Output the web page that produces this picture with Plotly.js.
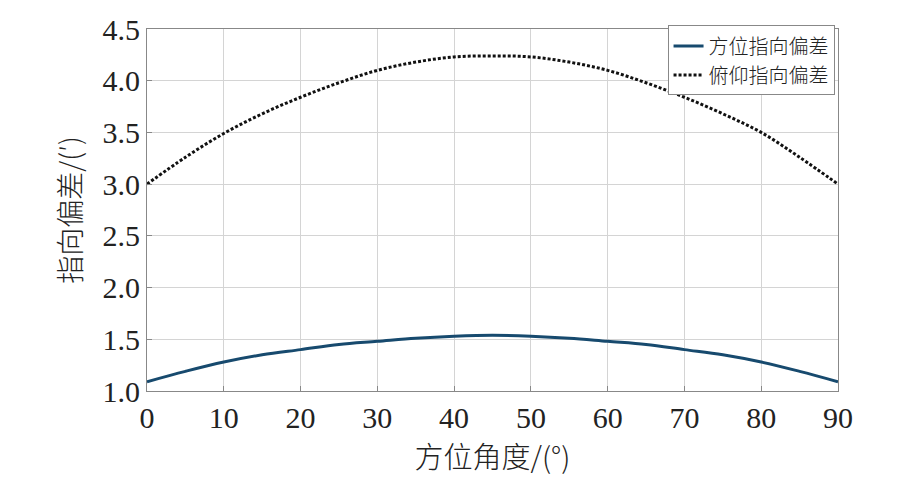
<!DOCTYPE html>
<html>
<head>
<meta charset="utf-8">
<script src="https://cdn.plot.ly/plotly-3.0.1.min.js"></script>
<style>
  body { margin: 0; background: #fff; }
  #chart { width: 897px; height: 481px; }
</style>
</head>
<body>
<div id="chart"></div>
<script>
// azimuth angle (deg) and pointing errors
var angles = [0, 5, 10, 15, 20, 25, 30, 35, 40, 45, 50, 55, 60, 65, 70, 75, 80, 85, 90];
var azimuthError = [1.09, 1.19, 1.28, 1.35, 1.40, 1.45, 1.48, 1.51, 1.53, 1.54, 1.53, 1.51, 1.48, 1.45, 1.40, 1.35, 1.28, 1.19, 1.09];
var pitchError = [3.00, 3.26, 3.49, 3.68, 3.84, 3.98, 4.10, 4.18, 4.23, 4.24, 4.23, 4.18, 4.10, 3.98, 3.84, 3.68, 3.50, 3.26, 3.00];
var seriesNames = ["方位指向偏差", "俯仰指向偏差"];

var serif = "'Liberation Serif', 'Times New Roman', 'Noto Sans CJK SC', serif";
var cjk = "'Noto Sans CJK SC', sans-serif";

var azimuthTrace = {
    type: 'scatter',
    mode: 'lines',
    x: angles,
    y: azimuthError,
    name: seriesNames[0],
    line: { color: '#174a6e', width: 3, shape: 'spline' }
};

var pitchTrace = {
    type: 'scatter',
    mode: 'lines',
    x: angles,
    y: pitchError,
    name: seriesNames[1],
    line: { color: '#111111', width: 3, dash: '3px,2px', shape: 'spline' }
};

var layout = {
    width: 897,
    height: 481,
    margin: { l: 147, r: 59, t: 29, b: 90 },
    paper_bgcolor: '#fff',
    plot_bgcolor: '#fff',
    showlegend: true,
    legend: {
        x: 0.995, y: 1.01, xanchor: 'right', yanchor: 'top',
        bgcolor: '#fff', bordercolor: '#888', borderwidth: 1,
        font: { family: cjk, size: 20, color: '#222', weight: 300 },
        itemwidth: 30, tracegroupgap: 0
    },
    xaxis: {
        range: [0, 90],
        tickvals: [0, 10, 20, 30, 40, 50, 60, 70, 80, 90],
        showgrid: true, gridcolor: '#d4d4d4', gridwidth: 1,
        showline: true, linecolor: '#888', linewidth: 1, mirror: true,
        ticks: 'inside', ticklen: 5, tickcolor: '#888',
        zeroline: false,
        tickfont: { family: serif, size: 30, color: '#222' },
        title: { text: '方位角度/(°)', font: { family: cjk, size: 29, color: '#222', weight: 300 }, standoff: 4 }
    },
    yaxis: {
        range: [1.0, 4.5],
        tickvals: [1.0, 1.5, 2.0, 2.5, 3.0, 3.5, 4.0, 4.5],
        ticktext: ['1.0', '1.5', '2.0', '2.5', '3.0', '3.5', '4.0', '4.5'],
        showgrid: true, gridcolor: '#d4d4d4', gridwidth: 1,
        showline: true, linecolor: '#888', linewidth: 1, mirror: true,
        ticks: 'inside', ticklen: 5, tickcolor: '#888',
        zeroline: false,
        tickfont: { family: serif, size: 30, color: '#222' },
        title: { text: '指向偏差/(′)', font: { family: cjk, size: 28, color: '#222', weight: 300 }, standoff: 12 }
    }
};

Plotly.newPlot('chart', [azimuthTrace, pitchTrace], layout, { staticPlot: true });
</script>
</body>
</html>
